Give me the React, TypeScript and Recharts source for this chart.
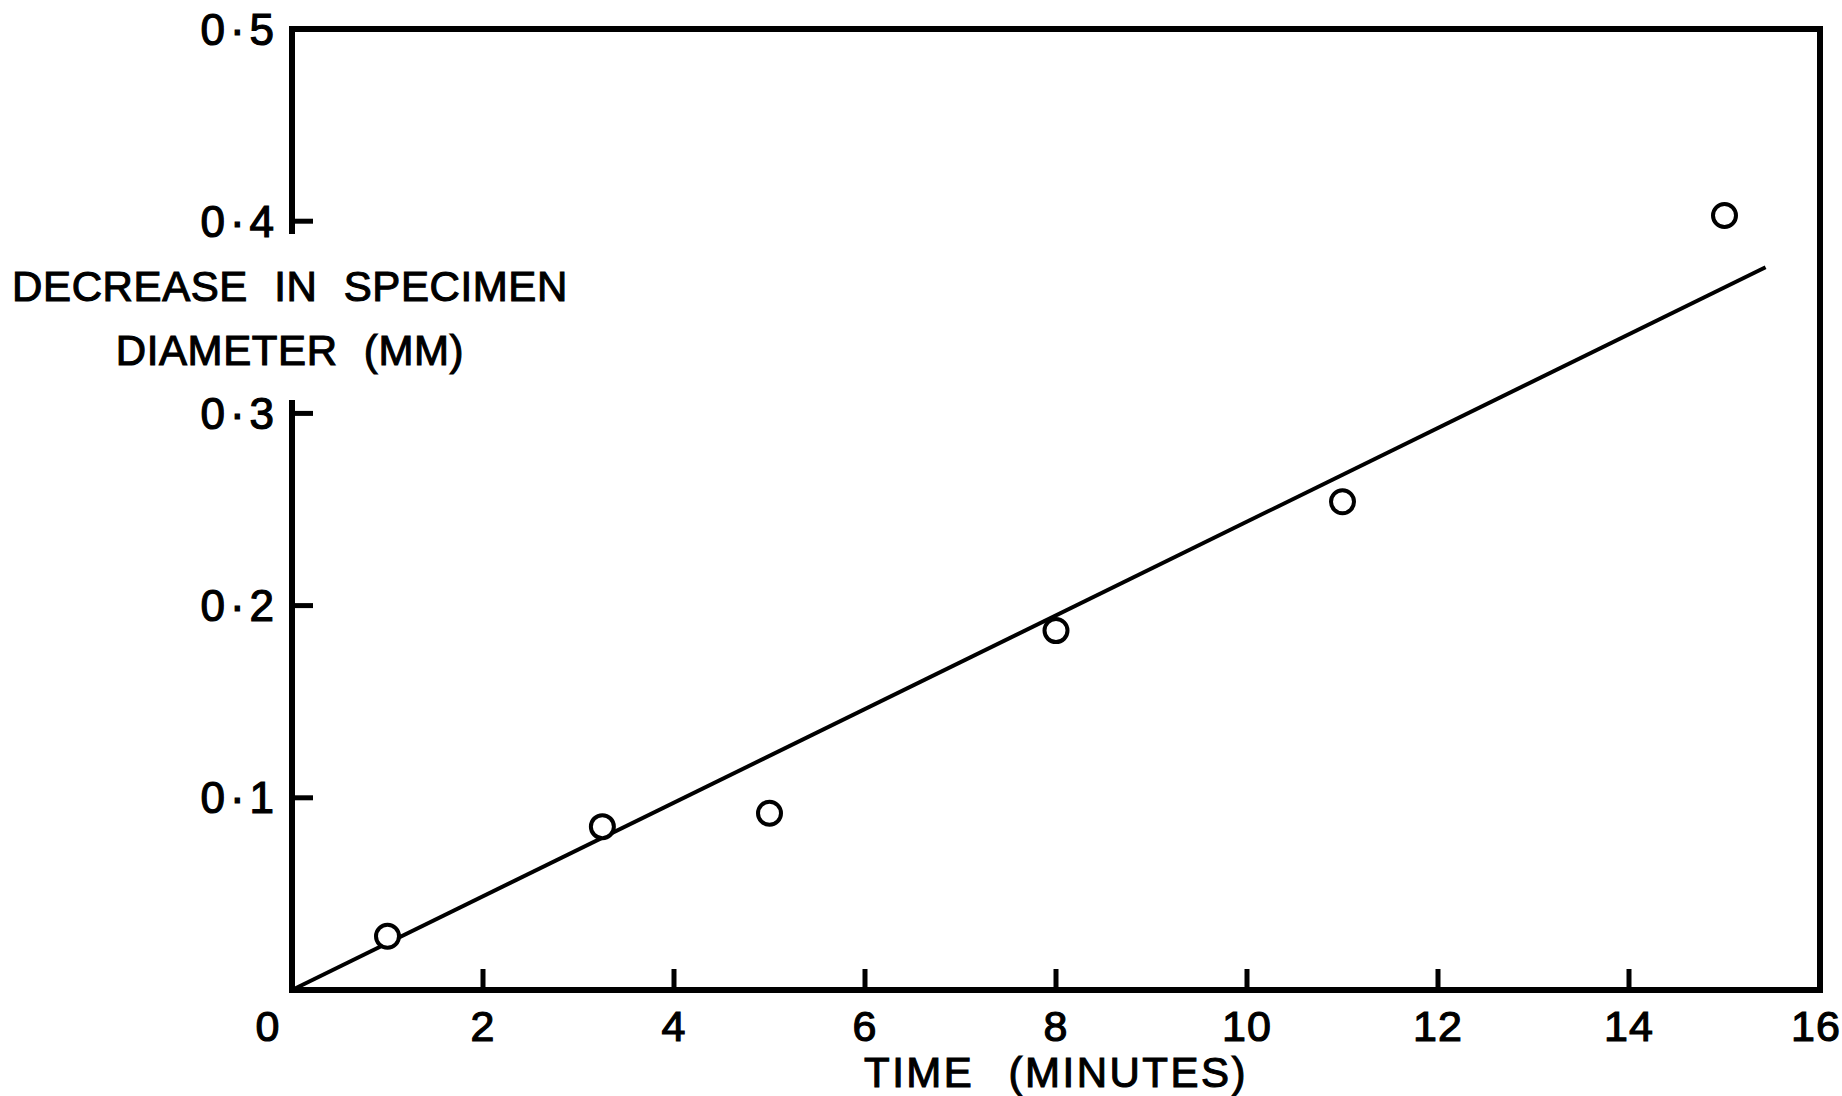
import { Scatter, ScatterChart, XAxis, YAxis } from "recharts";

// measured points (time in minutes, decrease in mm)
const timeMin = [1, 3.25, 5, 8, 11, 15];
const decreaseMm = [0.028, 0.085, 0.092, 0.187, 0.254, 0.403];

// fitted straight line, drawn from origin
const fitTime = [0, 15.43];
const fitDecrease = [0, 0.376];

const xTicks = [0, 2, 4, 6, 8, 10, 12, 14, 16];
const xInnerTicks = [2, 4, 6, 8, 10, 12, 14];
const yTicks = [0.1, 0.2, 0.3, 0.4, 0.5];
const yInnerTicks = [0.1, 0.2, 0.3, 0.4];
const yTickLabels = ["0·1", "0·2", "0·3", "0·4", "0·5"];

const points = timeMin.map((t, i) => ({ x: t, y: decreaseMm[i] }));
const fitLine = fitTime.map((t, i) => ({ x: t, y: fitDecrease[i] }));

const FONT = "'Liberation Sans', Arial, sans-serif";
const TICK_LEN = 21;

function BottomTick(props: any) {
  const { x, y, payload } = props;
  const v = payload.value;
  const inner = v !== 0 && v !== 16;
  return (
    <g>
      {inner && <line x1={x} x2={x} y1={y} y2={y - TICK_LEN} stroke="#000" strokeWidth={5} />}
      <text
        x={v === 0 ? x - 24 : v === 16 ? x - 4 : x}
        y={y + 36}
        textAnchor="middle"
        dominantBaseline="central"
        fontFamily={FONT}
        fontSize={43}
        letterSpacing={1}
        fill="#000"
        stroke="#000"
        strokeWidth={1.2}
      >
        {v}
      </text>
    </g>
  );
}

function LeftTick(props: any) {
  const { x, y, payload } = props;
  const idx = yTicks.indexOf(payload.value);
  return (
    <g>
      {payload.value < 0.5 && (
        <line x1={x} x2={x + TICK_LEN} y1={y} y2={y} stroke="#000" strokeWidth={5} />
      )}
      <text
        x={x - 13}
        y={y}
        textAnchor="end"
        dominantBaseline="central"
        fontFamily={FONT}
        fontSize={44}
        letterSpacing={5}
        fill="#000"
        stroke="#000"
        strokeWidth={1.2}
      >
        {yTickLabels[idx]}
      </text>
    </g>
  );
}

function TopTick(props: any) {
  const { x, y } = props;
  return <line x1={x} x2={x} y1={y} y2={y + TICK_LEN} stroke="#000" strokeWidth={5} />;
}

function RightTick(props: any) {
  const { x, y } = props;
  return <line x1={x} x2={x - TICK_LEN} y1={y} y2={y} stroke="#000" strokeWidth={5} />;
}

function OpenCircle(props: any) {
  const { cx, cy } = props;
  return <circle cx={cx} cy={cy} r={11.5} fill="#fff" stroke="#000" strokeWidth={4} />;
}

const axisLine = { stroke: "#000", strokeWidth: 6, strokeLinecap: "square" as const };

const titleStyle = {
  position: "absolute" as const,
  textAlign: "center" as const,
  fontSize: 42,
  color: "#000",
  whiteSpace: "nowrap" as const,
  WebkitTextStroke: "1.1px #000",
};

export default function App() {
  return (
    <div
      style={{
        position: "absolute",
        left: 0,
        top: 0,
        width: 1842,
        height: 1096,
        background: "#fff",
        fontFamily: FONT,
      }}
    >
      <ScatterChart width={1842} height={1096} margin={{ top: 0, right: 0, bottom: 0, left: 0 }}>
        <XAxis
          xAxisId="b"
          type="number"
          dataKey="x"
          domain={[0, 16]}
          ticks={xTicks}
          orientation="bottom"
          height={106}
          tickSize={0}
          tickMargin={0}
          tickLine={false}
          axisLine={axisLine}
          tick={BottomTick}
        />
        <XAxis
          xAxisId="t"
          type="number"
          domain={[0, 16]}
          ticks={xInnerTicks}
          orientation="top"
          height={29}
          tickSize={0}
          tickMargin={0}
          tickLine={false}
          axisLine={axisLine}
          tick={TopTick}
        />
        <YAxis
          yAxisId="l"
          type="number"
          dataKey="y"
          domain={[0, 0.5]}
          ticks={yTicks}
          orientation="left"
          width={292}
          tickSize={0}
          tickMargin={0}
          tickLine={false}
          axisLine={axisLine}
          tick={LeftTick}
        />
        <YAxis
          yAxisId="r"
          type="number"
          domain={[0, 0.5]}
          ticks={yInnerTicks}
          orientation="right"
          width={22}
          tickSize={0}
          tickMargin={0}
          tickLine={false}
          axisLine={axisLine}
          tick={RightTick}
        />
        <Scatter
          xAxisId="b"
          yAxisId="l"
          data={fitLine}
          line={{ stroke: "#000", strokeWidth: 4 }}
          shape={() => <g />}
          isAnimationActive={false}
        />
        <Scatter
          xAxisId="b"
          yAxisId="l"
          data={points}
          shape={OpenCircle}
          isAnimationActive={false}
        />
      </ScatterChart>

      {/* the y title breaks the left frame line */}
      <div
        style={{
          position: "absolute",
          left: 284,
          top: 234,
          width: 18,
          height: 166,
          background: "#fff",
        }}
      />
      <div
        style={{
          ...titleStyle,
          left: 0,
          top: 255,
          width: 580,
          lineHeight: "64px",
          letterSpacing: 0.6,
          wordSpacing: 14,
        }}
      >
        DECREASE IN SPECIMEN
        <br />
        DIAMETER (MM)
      </div>
      <div
        style={{
          ...titleStyle,
          left: 756,
          top: 1048,
          width: 600,
          lineHeight: "50px",
          letterSpacing: 2.5,
          wordSpacing: 20,
        }}
      >
        TIME (MINUTES)
      </div>
    </div>
  );
}
